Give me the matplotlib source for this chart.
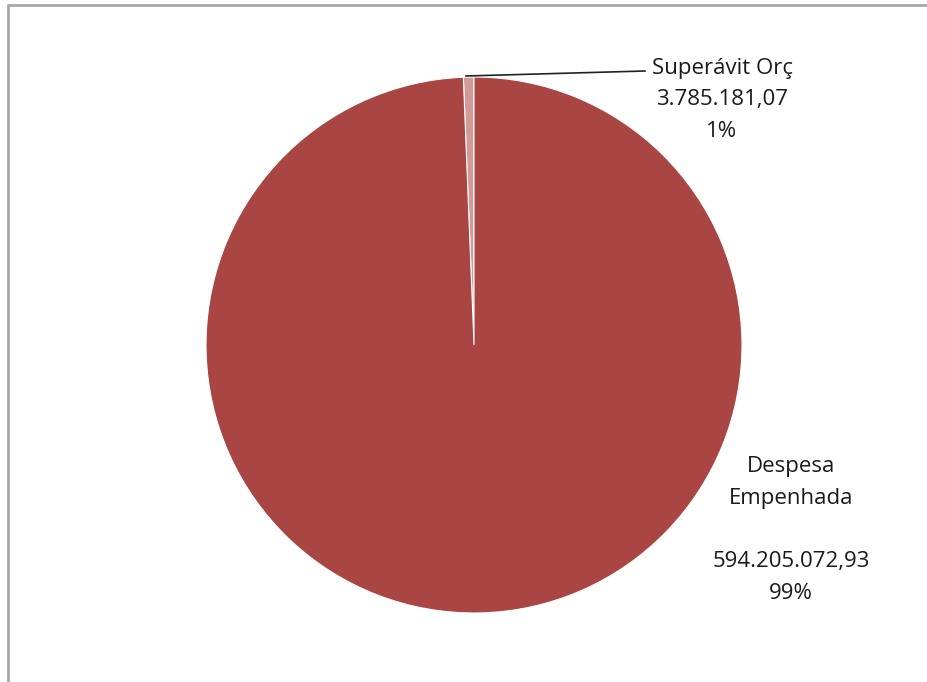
import matplotlib.pyplot as plt
from matplotlib.lines import Line2D

labels = ['Superávit Orç', 'Despesa\nEmpenhada']
values = [3785181.07, 594205072.93]
value_text = ['3.785.181,07', '594.205.072,93']
pct_text = ['1%', '99%']
colors = ['#D39A98', '#A94643']

W, H = 927, 682
fig = plt.figure(figsize=(W / 100, H / 100), dpi=100)

# pie centre (474, 345) px, radius 268 px
cx, cy, r = 474, 345, 268
ax = fig.add_axes([(cx - r) / W, (H - cy - r) / H, 2 * r / W, 2 * r / H])
ax.pie(values, colors=colors, startangle=90, counterclock=True,
       wedgeprops=dict(edgecolor='white', linewidth=0.8))
ax.set_xlim(-1, 1)
ax.set_ylim(-1, 1)
ax.set_aspect('equal')
ax.axis('off')


def px(x, y):
    return (x - cx) / r, (cy - y) / r


font = dict(family=['Open Sans', 'DejaVu Sans'], fontsize=16, color='#1a1a1a')

# leader line for the small slice
x0, y0 = px(466, 76)
x1, y1 = px(645, 71)
ax.plot([x0, x1], [y0, y1], color='#222222', lw=1.2, clip_on=False)

tx, ty = px(722, 100)
ax.text(tx, ty, f'{labels[0]}\n{value_text[0]}\n{pct_text[0]}', ha='center',
        va='center', linespacing=1.68, clip_on=False, **font)

tx, ty = px(791, 530)
ax.text(tx, ty, f'{labels[1]}\n\n{value_text[1]}\n{pct_text[1]}', ha='center',
        va='center', linespacing=1.68, clip_on=False, **font)

# grey frame (only left and top edges visible)
fig.add_artist(Line2D([8 / W, 8 / W, 1], [0, 1 - 5 / H, 1 - 5 / H],
                      transform=fig.transFigure, color='#a8a8a8', lw=2))

fig.savefig('out.png', dpi=100)
